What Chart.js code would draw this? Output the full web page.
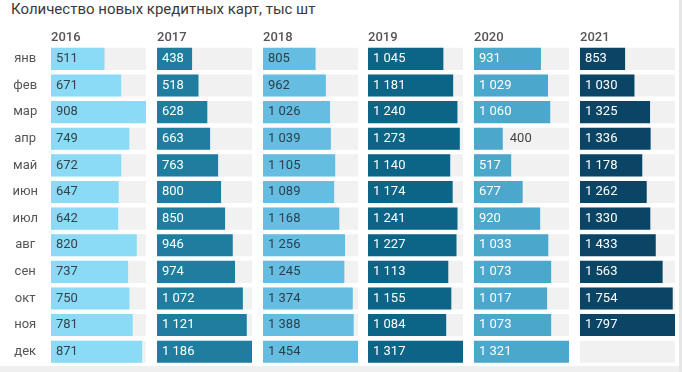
<!DOCTYPE html>
<html>
<head>
<meta charset="utf-8">
<script src="https://cdn.jsdelivr.net/npm/chart.js@4"></script>
<style>
  body { margin: 0; width: 682px; height: 372px; background: #fff; position: relative; overflow: hidden; font-family: Roboto, sans-serif; }
  #title { position: absolute; left: 11px; top: 0px; font-size: 15px; color: #3a3a3a; white-space: nowrap; }
  canvas { position: absolute; }
  #bottom { position: absolute; left: 0; top: 366px; width: 682px; height: 6px; background: #efefef; }
  #right { position: absolute; left: 679px; top: 0; width: 3px; height: 372px; background: #e6e6e6; }
</style>
</head>
<body>
<div id="title">Количество новых кредитных карт, тыс шт</div>
<div id="bottom"></div>
<div id="right"></div>

<script>
// months and yearly values (тыс шт)
const months = ['янв', 'фев', 'мар', 'апр', 'май', 'июн', 'июл', 'авг', 'сен', 'окт', 'ноя', 'дек'];
const years = ['2016', '2017', '2018', '2019', '2020', '2021'];

const v2016 = [511, 671, 908, 749, 672, 647, 642, 820, 737, 750, 781, 871];
const v2017 = [438, 518, 628, 663, 763, 800, 850, 946, 974, 1072, 1121, 1186];
const v2018 = [805, 962, 1026, 1039, 1105, 1089, 1168, 1256, 1245, 1374, 1388, 1454];
const v2019 = [1045, 1181, 1240, 1273, 1140, 1174, 1241, 1227, 1113, 1155, 1084, 1317];
const v2020 = [931, 1029, 1060, 400, 517, 677, 920, 1033, 1073, 1017, 1073, 1321];
const v2021 = [853, 1030, 1325, 1336, 1178, 1262, 1330, 1433, 1563, 1754, 1797, null];

const series = [v2016, v2017, v2018, v2019, v2020, v2021];
const barColors = ['#8bdbf7', '#1f7ea0', '#66bde2', '#0c6487', '#4ca7cd', '#0b4566'];
const textColors = ['#34434c', '#ffffff', '#2c3e48', '#ffffff', '#ffffff', '#ffffff'];

function fmt(v) {
  return String(v).replace(/\B(?=(\d{3})+(?!\d))/g, ' ');
}

// value labels inside the bar, or just after it if it does not fit
const valueLabels = {
  id: 'valueLabels',
  afterDatasetsDraw(chart) {
    const ctx = chart.ctx;
    const meta = chart.getDatasetMeta(1);
    const col = chart.options.plugins.valueLabels.col;
    ctx.save();
    ctx.font = '13px Roboto';
    ctx.textBaseline = 'middle';
    ctx.textAlign = 'left';
    meta.data.forEach((bar, i) => {
      const v = chart.data.datasets[1].data[i];
      if (v == null) return;
      const txt = fmt(v);
      const w = ctx.measureText(txt).width;
      if (bar.x - bar.base > w + 12) {
        ctx.fillStyle = textColors[col];
        ctx.fillText(txt, bar.base + 5, bar.y);
      } else {
        ctx.fillStyle = '#444';
        ctx.fillText(txt, bar.x + 7, bar.y);
      }
    });
    ctx.restore();
  }
};

const top0 = 20, h0 = 345, areaLeft = 51, colStep = 105.8, colW = 95;

years.forEach((year, c) => {
  const canvas = document.createElement('canvas');
  const first = c === 0;
  const left = first ? 0 : Math.round(areaLeft + c * colStep);
  const width = first ? areaLeft + colW : colW;
  canvas.width = width;
  canvas.height = h0;
  canvas.style.left = left + 'px';
  canvas.style.top = top0 + 'px';
  document.body.appendChild(canvas);

  const vals = series[c];
  const max = Math.max(...vals.filter(v => v != null));

  new Chart(canvas, {
    type: 'bar',
    data: {
      labels: months,
      datasets: [
        {
          // grey track behind each bar
          data: months.map(() => max),
          backgroundColor: '#f1f1f1',
          grouped: false,
          barPercentage: 0.83,
          categoryPercentage: 1,
          order: 2
        },
        {
          data: vals,
          backgroundColor: barColors[c],
          grouped: false,
          barPercentage: 0.83,
          categoryPercentage: 1,
          order: 1
        }
      ]
    },
    options: {
      indexAxis: 'y',
      responsive: false,
      animation: false,
      devicePixelRatio: 1,
      layout: { padding: 0 },
      plugins: {
        legend: { display: false },
        tooltip: { enabled: false },
        valueLabels: { col: c }
      },
      scales: {
        x: {
          position: 'top',
          min: 0,
          max: max,
          grid: { display: false, drawTicks: false },
          border: { display: false },
          ticks: { display: false },
          title: {
            display: true,
            text: year,
            align: 'start',
            color: '#555',
            font: { family: 'Roboto', size: 13, weight: '500' },
            padding: { top: 10, bottom: 0 }
          }
        },
        y: {
          display: first,
          grid: { display: false, drawTicks: false },
          border: { display: false },
          ticks: {
            color: '#555',
            font: { family: 'Roboto', size: 13 },
            crossAlign: 'center',
            padding: 13
          },
          afterFit(scale) {
            if (!first) return;
            scale.width = areaLeft;
            scale.paddingTop = 0;
            scale.paddingBottom = 0;
          }
        }
      }
    },
    plugins: [valueLabels]
  });
});
</script>
</body>
</html>
